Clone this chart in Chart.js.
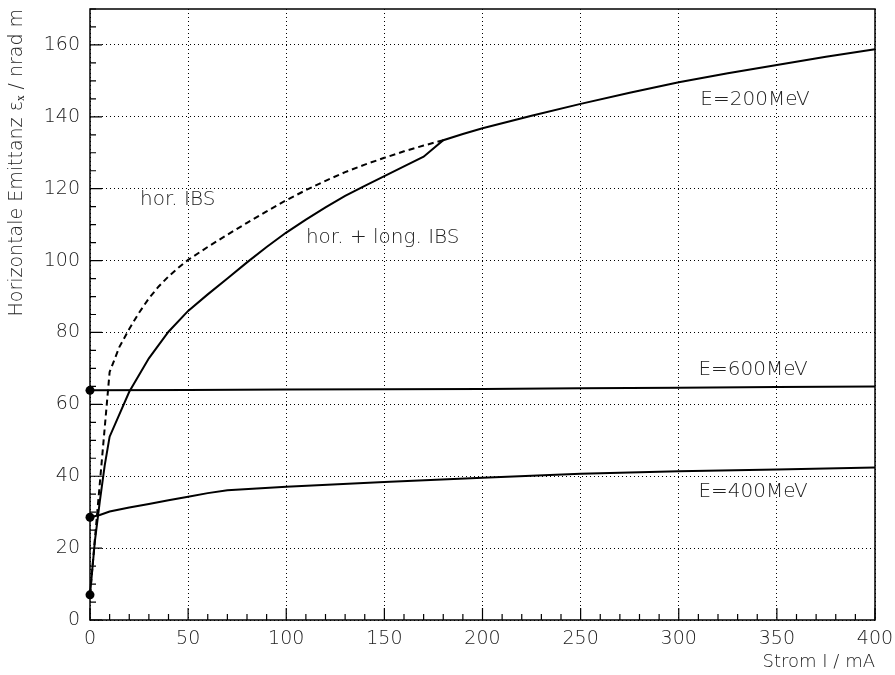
<!DOCTYPE html>
<html>
<head>
<meta charset="utf-8">
<script src="https://cdn.jsdelivr.net/npm/chart.js@4.4.1/dist/chart.umd.min.js"></script>
<style>
  html, body { margin: 0; padding: 0; background: #fff; }
  #wrap { width: 895px; height: 675px; }
</style>
</head>
<body>
<div id="wrap"><canvas id="chart" width="895" height="675"></canvas></div>
<script>
// Werte
const strom200 = [0, 2.5, 5, 7.5, 10, 20, 30, 40, 50, 60, 70, 80, 90, 100, 110, 120, 130, 140, 150, 160, 170, 180, 190, 200, 225, 250, 275, 300, 325, 350, 375, 400];
const emit200 = [7, 22, 33, 43, 51, 63.5, 72.8, 80.2, 86, 90.6, 95, 99.5, 103.8, 107.8, 111.4, 114.8, 118, 120.8, 123.5, 126.2, 128.9, 133.5, 135.2, 136.8, 140.3, 143.6, 146.7, 149.6, 152.1, 154.4, 156.7, 158.8];

const stromHor = [0, 10, 15, 20, 25, 30, 35, 40, 45, 50, 60, 70, 80, 90, 100, 110, 120, 130, 140, 150, 160, 170, 180];
const emitHor = [7, 69, 76, 81, 85.5, 89.5, 92.8, 95.6, 98, 100.2, 103.8, 107.2, 110.5, 113.7, 116.8, 119.6, 122.2, 124.6, 126.7, 128.6, 130.4, 132, 133.5];

const strom400 = [0, 5, 10, 20, 30, 40, 50, 60, 70, 100, 150, 200, 250, 300, 350, 400];
const emit400 = [28.6, 29.2, 30.2, 31.3, 32.3, 33.3, 34.3, 35.3, 36.1, 37.1, 38.4, 39.6, 40.7, 41.4, 41.9, 42.4];

const strom600 = [0, 50, 100, 150, 200, 250, 300, 350, 400];
const emit600 = [63.9, 64.0, 64.1, 64.2, 64.3, 64.5, 64.6, 64.8, 65.0];

const xTicks = [0, 50, 100, 150, 200, 250, 300, 350, 400];
const yTicks = [0, 20, 40, 60, 80, 100, 120, 140, 160];

const beschriftungen = [
  { text: 'E=200MeV', x: 311, y: 144.7 },
  { text: 'E=600MeV', x: 310, y: 69.6 },
  { text: 'E=400MeV', x: 310, y: 35.6 },
  { text: 'hor. IBS', x: 25.5, y: 116.9 },
  { text: 'hor. + long. IBS', x: 110, y: 106.3 }
];

const FONT = 'DejaVu Sans';

function punkte(xs, ys) {
  return xs.map((x, i) => ({ x, y: ys[i] }));
}

function linie(xs, ys, dash, dot) {
  return {
    data: punkte(xs, ys),
    borderColor: '#000',
    backgroundColor: '#000',
    borderWidth: 2,
    borderDash: dash,
    pointRadius: c => (dot && c.dataIndex === 0 ? 4.5 : 0),
    pointBorderWidth: 0,
    tension: 0,
    clip: false
  };
}

// Rahmen, Ticks nach innen und Texte
const rahmen = {
  id: 'rahmen',
  afterDatasetsDraw(chart) {
    const { ctx, chartArea: a, scales: { x, y } } = chart;
    ctx.save();
    ctx.strokeStyle = '#000';
    ctx.lineWidth = 1.5;
    ctx.strokeRect(a.left, a.top, a.right - a.left, a.bottom - a.top);

    ctx.lineWidth = 1.2;
    ctx.beginPath();
    for (let v = 0; v <= 400; v += 10) {
      const px = x.getPixelForValue(v);
      const len = v % 50 === 0 ? 12 : 6;
      ctx.moveTo(px, a.bottom);
      ctx.lineTo(px, a.bottom - len);
    }
    for (let v = 0; v <= 170; v += 5) {
      const py = y.getPixelForValue(v);
      const len = v % 20 === 0 ? 12 : 6;
      ctx.moveTo(a.left, py);
      ctx.lineTo(a.left + len, py);
    }
    ctx.stroke();

    ctx.fillStyle = '#222';
    ctx.font = '200 20px "' + FONT + '"';
    ctx.textBaseline = 'middle';
    ctx.textAlign = 'left';
    beschriftungen.forEach(b => {
      ctx.fillText(b.text, x.getPixelForValue(b.x), y.getPixelForValue(b.y));
    });
    ctx.restore();
  }
};

const ctx = document.getElementById('chart').getContext('2d');
new Chart(ctx, {
  type: 'line',
  data: {
    datasets: [
      linie(strom200, emit200, [], true),
      linie(stromHor, emitHor, [6, 4], false),
      linie(strom400, emit400, [], true),
      linie(strom600, emit600, [], true)
    ]
  },
  options: {
    responsive: false,
    animation: false,
    layout: { padding: { top: 9, right: 20, left: 0, bottom: 0 } },
    plugins: { legend: { display: false }, tooltip: { enabled: false } },
    scales: {
      x: {
        type: 'linear',
        min: 0,
        max: 400,
        afterBuildTicks: s => { s.ticks = xTicks.map(v => ({ value: v })); },
        afterFit: s => { s.height = 55; s.paddingLeft = 0; s.paddingRight = 0; },
        ticks: { color: '#222', padding: 8, font: { family: FONT, size: 19, weight: 200 } },
        grid: { color: '#000', lineWidth: 1, drawTicks: false },
        border: { display: false, dash: [1, 3] },
        title: {
          display: true,
          text: 'Strom I / mA',
          align: 'end',
          color: '#222',
          padding: { top: 0, bottom: 2 },
          font: { family: FONT, size: 18, weight: 200 }
        }
      },
      y: {
        type: 'linear',
        min: 0,
        max: 170,
        afterBuildTicks: s => { s.ticks = yTicks.map(v => ({ value: v })); },
        afterFit: s => { s.width = 90; s.paddingTop = 0; s.paddingBottom = 0; },
        ticks: { color: '#222', padding: 10, font: { family: FONT, size: 19, weight: 200 } },
        grid: { color: '#000', lineWidth: 1, drawTicks: false },
        border: { display: false, dash: [1, 3] },
        title: {
          display: true,
          text: 'Horizontale Emittanz εₓ / nrad m',
          align: 'end',
          color: '#222',
          padding: { top: 6, bottom: 0 },
          font: { family: FONT, size: 19, weight: 200 }
        }
      }
    }
  },
  plugins: [rahmen]
});
</script>
</body>
</html>
